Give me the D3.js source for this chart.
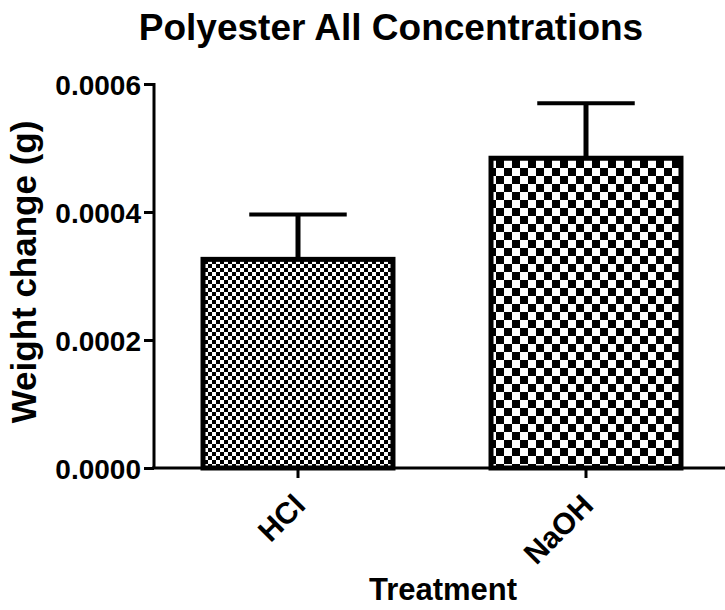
<!DOCTYPE html>
<html><head><meta charset="utf-8">
<script src="https://cdn.jsdelivr.net/npm/d3@7"></script>
<style>body{margin:0;background:#fff}text{font-family:"Liberation Sans",Arial,sans-serif;font-weight:bold}</style>
</head><body><svg id="c" width="725" height="610"></svg>
<script>
const categories = ["HCl", "NaOH"];
const means = [0.000326, 0.000484];
const errTops = [0.000396, 0.000570];
const yTicks = [0, 0.0002, 0.0004, 0.0006];
const patternSizes = [4, 8];

const svg = d3.select("#c");
const defs = svg.append("defs");
patternSizes.forEach((s, i) => {
  const p = defs.append("pattern").attr("id", "chk" + i).attr("patternUnits", "userSpaceOnUse")
    .attr("width", 2 * s).attr("height", 2 * s);
  p.append("rect").attr("width", 2 * s).attr("height", 2 * s).attr("fill", "#fff");
  p.append("rect").attr("width", s).attr("height", s).attr("fill", "#000");
  p.append("rect").attr("x", s).attr("y", s).attr("width", s).attr("height", s).attr("fill", "#000");
});

const x = d3.scaleBand().domain(categories).range([154, 730]).paddingInner(0.323).paddingOuter(0.1615);
const y = d3.scaleLinear().domain([0, 0.0006]).range([468, 84]);

svg.selectAll("rect.bar").data(categories).join("rect").attr("class", "bar")
  .attr("x", d => x(d) + 2.5).attr("width", x.bandwidth() - 5)
  .attr("y", (d, i) => y(means[i])).attr("height", (d, i) => y(0) - y(means[i]))
  .attr("fill", (d, i) => `url(#chk${i})`).attr("stroke", "#000").attr("stroke-width", 5);

categories.forEach((c, i) => {
  const cx = x(c) + x.bandwidth() / 2;
  svg.append("line").attr("x1", cx).attr("x2", cx).attr("y1", y(means[i])).attr("y2", y(errTops[i]))
    .attr("stroke", "#000").attr("stroke-width", 5);
  svg.append("line").attr("x1", cx - x.bandwidth() / 4).attr("x2", cx + x.bandwidth() / 4)
    .attr("y1", y(errTops[i])).attr("y2", y(errTops[i])).attr("stroke", "#000").attr("stroke-width", 4);
});

const FONT = '"Liberation Sans",Arial,sans-serif';
const ya = svg.append("g").attr("transform", "translate(154,0)")
  .call(d3.axisLeft(y).tickValues(yTicks).tickFormat(d3.format(".4f")).tickSize(10).tickPadding(3));
ya.select(".domain").attr("stroke-width", 3).attr("d", `M0,${y(0)}V${y(0.0006) - 1}`);
ya.selectAll(".tick line").attr("stroke-width", 3);
ya.selectAll(".tick text").attr("font-size", 28).attr("font-weight", "bold").attr("fill", "#000")
  .attr("font-family", FONT).attr("dy", "0.36em");

const xa = svg.append("g").attr("transform", `translate(0,${y(0)})`)
  .call(d3.axisBottom(x).tickSize(10).tickPadding(0));
xa.select(".domain").attr("stroke-width", 3).attr("d", `M152,0H725`);
xa.selectAll(".tick line").attr("stroke-width", 3);
xa.selectAll(".tick text").attr("font-size", 30).attr("font-weight", "bold").attr("fill", "#000")
  .attr("font-family", FONT)
  .attr("text-anchor", "end").attr("dy", "0")
  .attr("transform", "translate(2,32) rotate(-45)");

svg.append("text").attr("x", 391).attr("y", 40).attr("text-anchor", "middle").attr("font-size", 37).text("Polyester All Concentrations");
svg.append("text").attr("transform", "translate(36,272) rotate(-90)").attr("text-anchor", "middle").attr("font-size", 35).text("Weight change (g)");
svg.append("text").attr("x", 443).attr("y", 600).attr("text-anchor", "middle").attr("font-size", 31).text("Treatment");
</script></body></html>
